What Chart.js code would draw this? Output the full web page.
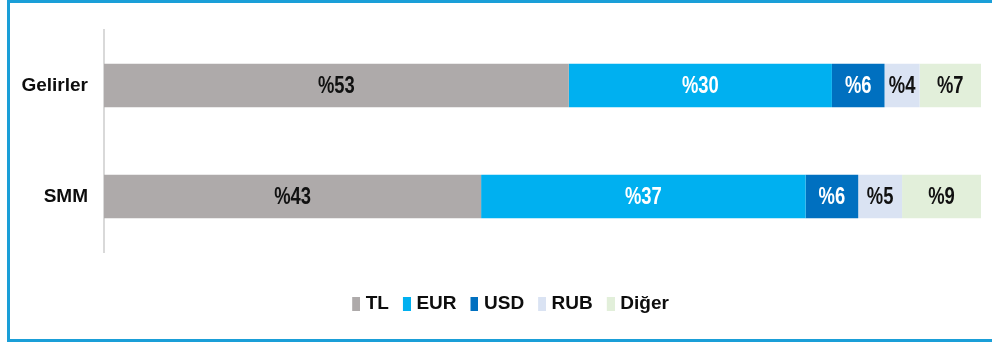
<!DOCTYPE html>
<html lang="tr">
<head>
<meta charset="utf-8">
<title>Gelir ve SMM döviz dağılımı</title>
<script src="https://cdn.jsdelivr.net/npm/chart.js@4.4.1/dist/chart.umd.min.js"></script>
<style>
  html, body { margin: 0; padding: 0; background: #ffffff; }
  #wrap { position: relative; width: 992px; height: 342px; overflow: hidden; }
  #chart { position: absolute; left: 0; top: 0; }
  #frame {
    position: absolute; left: 7px; top: 0; width: 990px; height: 336px;
    border-left: 3px solid #1A9FD8; border-top: 3px solid #1A9FD8; border-bottom: 3px solid #1A9FD8;
    pointer-events: none;
  }
</style>
</head>
<body>
<div id="wrap">
  <canvas id="chart" width="992" height="342"></canvas>
  <div id="frame"></div>
</div>
<script>
// Döviz bazında dağılım (%)
const categories = ['Gelirler', 'SMM'];
const currencies = ['TL', 'EUR', 'USD', 'RUB', 'Diğer'];
const tlValues    = [53, 43];
const eurValues   = [30, 37];
const usdValues   = [6, 6];
const rubValues   = [4, 5];
const digerValues = [7, 9];

const colors     = ['#AEAAAA', '#00B0F0', '#0070C0', '#DAE3F3', '#E2EFDA'];
const textColors = ['#111111', '#ffffff', '#ffffff', '#111111', '#111111'];
const FONT = "'Liberation Sans', Arial, sans-serif";

// Legend marker: a narrow tall square drawn right of the item's anchor
function legendMarker(color) {
  const c = document.createElement('canvas');
  c.width = 12; c.height = 14;
  const g = c.getContext('2d');
  g.fillStyle = color;
  g.fillRect(4, 0, 8, 14);
  return c;
}

const seriesValues = [tlValues, eurValues, usdValues, rubValues, digerValues];
const datasets = currencies.map((name, i) => ({
  label: name,
  data: seriesValues[i],
  backgroundColor: colors[i],
  borderWidth: 0,
  pointStyle: legendMarker(colors[i]),
  barPercentage: 0.39,
  categoryPercentage: 1.0
}));

// Percentage labels in the middle of each segment (condensed bold face)
const segmentLabels = {
  id: 'segmentLabels',
  afterDatasetsDraw(chart) {
    const ctx = chart.ctx;
    chart.data.datasets.forEach((ds, i) => {
      const meta = chart.getDatasetMeta(i);
      if (meta.hidden) return;
      meta.data.forEach((bar, j) => {
        const p = bar.getCenterPoint();
        ctx.save();
        ctx.translate(p.x, p.y + 1);
        ctx.scale(0.8, 1);
        ctx.font = 'bold 23px ' + FONT;
        ctx.textAlign = 'center';
        ctx.textBaseline = 'middle';
        ctx.fillStyle = textColors[i];
        ctx.fillText('%' + ds.data[j], 0, 0);
        ctx.restore();
      });
    });
  }
};

// Nudge the legend row to the right of the canvas centre
const legendOffset = {
  id: 'legendOffset',
  afterLayout(chart) {
    const lg = chart.legend;
    if (lg) { lg.left += 11; lg.right += 11; }
  }
};

new Chart(document.getElementById('chart'), {
  type: 'bar',
  data: { labels: categories, datasets },
  plugins: [segmentLabels, legendOffset],
  options: {
    indexAxis: 'y',
    responsive: false,
    animation: false,
    layout: { padding: { left: 18, right: 11, top: 30, bottom: 19 } },
    scales: {
      x: {
        stacked: true,
        min: 0,
        max: 100,
        display: true,
        grid: { display: false },
        border: { display: false },
        ticks: { display: false },
        afterFit(scale) { scale.height = 28; }
      },
      y: {
        stacked: true,
        grid: { display: false, drawTicks: false },
        border: { display: true, color: '#D9D9D9', width: 2 },
        ticks: {
          color: '#0d0d0d',
          padding: 16,
          font: { family: FONT, size: 19, weight: 'bold' }
        },
        afterFit(scale) { scale.width = 86; }
      }
    },
    plugins: {
      tooltip: { enabled: false },
      legend: {
        position: 'bottom',
        labels: {
          usePointStyle: true,
          boxWidth: 4,
          boxHeight: 14,
          padding: 14,
          color: '#0d0d0d',
          font: { family: FONT, size: 19, weight: 'bold' }
        }
      }
    }
  }
});
</script>
</body>
</html>
